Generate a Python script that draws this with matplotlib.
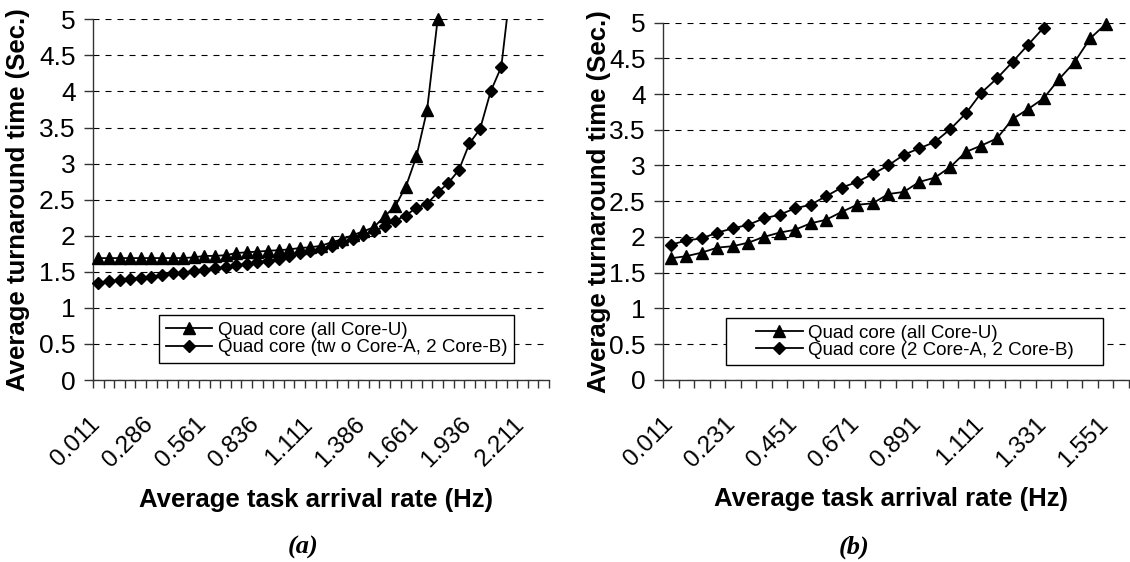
import numpy as np
import matplotlib
matplotlib.use("Agg")
import matplotlib.pyplot as plt
from matplotlib.patches import Rectangle
from matplotlib.lines import Line2D
from matplotlib.transforms import ScaledTranslation

plt.rcParams['font.family'] = ['Liberation Sans', 'DejaVu Sans']

# (a) 43 categories, step 0.055 Hz, labelled every 5th
n_cat_a = 43
labels_a = ["0.011", "0.286", "0.561", "0.836", "1.111", "1.386", "1.661", "1.936", "2.211"]
quad_u_a = [1.69, 1.69, 1.69, 1.69, 1.69, 1.69, 1.69, 1.69, 1.69, 1.70,
            1.72, 1.72, 1.73, 1.76, 1.77, 1.78, 1.79, 1.80, 1.81, 1.83,
            1.84, 1.86, 1.91, 1.95, 2.01, 2.06, 2.12, 2.27, 2.41, 2.68,
            3.10, 3.74, 5.00]
quad_ab_a = [1.35, 1.37, 1.38, 1.40, 1.42, 1.43, 1.45, 1.48, 1.49, 1.51,
             1.53, 1.55, 1.56, 1.59, 1.61, 1.63, 1.65, 1.68, 1.72, 1.76,
             1.79, 1.82, 1.86, 1.91, 1.95, 2.01, 2.06, 2.13, 2.21, 2.28,
             2.39, 2.44, 2.60, 2.73, 2.91, 3.28, 3.48, 4.00, 4.34, 5.60]

# (b) 30 categories, step 0.055 Hz, labelled every 4th
n_cat_b = 30
labels_b = ["0.011", "0.231", "0.451", "0.671", "0.891", "1.111", "1.331", "1.551"]
quad_u_b = [1.70, 1.73, 1.78, 1.85, 1.87, 1.92, 2.00, 2.06, 2.10, 2.19,
            2.24, 2.35, 2.45, 2.47, 2.60, 2.63, 2.77, 2.83, 2.98, 3.19,
            3.28, 3.38, 3.65, 3.79, 3.94, 4.21, 4.45, 4.78, 4.98, 5.30]
quad_ab_b = [1.89, 1.95, 1.98, 2.06, 2.12, 2.17, 2.26, 2.31, 2.40, 2.45,
             2.57, 2.69, 2.77, 2.88, 3.00, 3.15, 3.24, 3.33, 3.51, 3.73,
             4.02, 4.22, 4.45, 4.69, 4.93, 5.18]

legend_a = ["Quad core (all Core-U)", "Quad core (tw o Core-A, 2 Core-B)"]
legend_b = ["Quad core (all Core-U)", "Quad core (2 Core-A, 2 Core-B)"]

yticks = np.arange(0, 5.01, 0.5)

fig = plt.figure(figsize=(11.3, 5.62), dpi=100)
ax1 = fig.add_axes([93/1130, 1-380/562, 456/1130, 360.7/562])
ax2 = fig.add_axes([663/1130, 1-379.7/562, 466/1130, 357/562])


def draw(ax, tri, dia, ncat, every, labels, leg, box, ylab_x):
    for vals, m, ms in [(tri, '^', 8.5), (dia, 'D', 6.0)]:
        x = np.arange(len(vals))
        v = np.array(vals)
        ax.plot(x, v, color='black', lw=1.3, zorder=3)
        vm = np.where(v <= 5.001, v, np.nan)
        ax.plot(x, vm, ls='none', marker=m, ms=ms, color='black', clip_on=False, zorder=4)
    ax.set_xlim(-0.5, ncat - 0.5)
    ax.set_ylim(0, 5)
    ax.set_yticks(yticks)
    ax.set_yticklabels(['%g' % t for t in yticks], fontsize=19)
    ax.set_xticks(np.arange(0, ncat, every))
    ax.set_xticklabels(labels, fontsize=17.5)
    ax.set_xticks(np.arange(-0.5, ncat, 1), minor=True)
    ax.tick_params(axis='x', which='major', length=0, pad=24)
    ax.tick_params(axis='x', which='minor', length=6, width=1, color='#333333', direction='out')
    ax.tick_params(axis='y', length=6.5, width=1, color='#333333', pad=6)
    off = ScaledTranslation(-9/100, 0, fig.dpi_scale_trans)
    for lab in ax.get_xticklabels():
        lab.set_rotation(45)
        lab.set_ha('right')
        lab.set_rotation_mode('anchor')
        lab.set_transform(lab.get_transform() + off)
    for s in ['top', 'right']:
        ax.spines[s].set_visible(False)
    for s in ['left', 'bottom']:
        ax.spines[s].set_color('#333333')
        ax.spines[s].set_linewidth(1)
    ax.grid(axis='y', color='black', lw=0.8, dashes=(5.4, 5.4))
    ax.set_axisbelow(True)
    ax.set_ylabel('Average turnaround time (Sec.)', fontsize=18.5, fontweight='bold')
    ax.yaxis.set_label_coords(ylab_x, 0.5)
    ax.set_xlabel('Average task arrival rate (Hz)', fontsize=18.5, fontweight='bold')
    ax.xaxis.set_label_coords(0.49, -0.30)
    ax.add_patch(Rectangle((box[0], box[1]), box[2], box[3], transform=ax.transAxes,
                           facecolor='white', edgecolor='black', lw=1, zorder=5))
    handles = [Line2D([], [], color='black', lw=1.3, marker='^', ms=8.5),
               Line2D([], [], color='black', lw=1.3, marker='D', ms=6.0)]
    lg = ax.legend(handles, leg, loc='center', bbox_to_anchor=(box[0] + box[2]/2, box[1] + box[3]/2),
                   frameon=False, fontsize=13.5, handlelength=2.5, handletextpad=0.3,
                   labelspacing=0.0, borderpad=0)
    lg.set_zorder(6)


draw(ax1, quad_u_a, quad_ab_a, n_cat_a, 5, labels_a, legend_a, (0.145, 0.047, 0.778, 0.133), -0.138)
draw(ax2, quad_u_b, quad_ab_b, n_cat_b, 4, labels_b, legend_b, (0.136, 0.041, 0.809, 0.132), -0.112)

fig.text(303/1130, 1-547/562, '(a)', fontsize=19, fontweight='bold', fontstyle='italic',
         family='Liberation Serif', ha='center', va='center')
fig.text(854/1130, 1-547/562, '(b)', fontsize=19, fontweight='bold', fontstyle='italic',
         family='Liberation Serif', ha='center', va='center')

fig.savefig('out.png', dpi=100)
